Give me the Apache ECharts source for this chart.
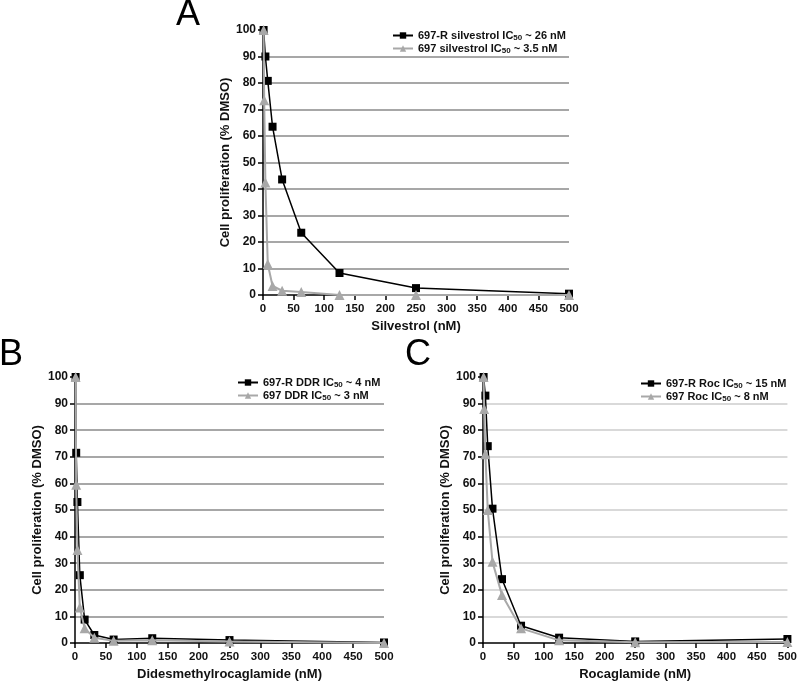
<!DOCTYPE html>
<html>
<head>
<meta charset="utf-8">
<script src="https://cdn.jsdelivr.net/npm/echarts@6/dist/echarts.min.js"></script>
<style>
html,body{margin:0;padding:0;background:#fff;}
#chart{width:800px;height:682px;}
</style>
</head>
<body>
<div id="chart"></div>
<script>
// ---- Data ----
const panelLetters = ['A', 'B', 'C'];
const xAxisTitles = ['Silvestrol (nM)', 'Didesmethylrocaglamide (nM)', 'Rocaglamide (nM)'];
const yAxisTitle = 'Cell proliferation (% DMSO)';

const seriesNames = [
  ['697-R silvestrol IC50 ~ 26 nM', '697 silvestrol IC50 ~ 3.5 nM'],
  ['697-R DDR IC50 ~ 4 nM', '697 DDR IC50 ~ 3 nM'],
  ['697-R Roc IC50 ~ 15 nM', '697 Roc IC50 ~ 8 nM']
];

// Panel A: silvestrol
const concSilvR = [0.98, 3.9, 7.8, 15.6, 31.25, 62.5, 125, 250, 500];
const silvR     = [100, 90, 80.8, 63.5, 43.6, 23.5, 8.3, 2.6, 0.5];
const concSilv  = [0.98, 1.95, 3.9, 7.8, 15.6, 31.25, 62.5, 125, 250, 500];
const silv      = [100, 73.5, 42.5, 11.7, 3.4, 1.6, 1.1, 0, 0, 0];

// Panel B: didesmethylrocaglamide
const concDdr = [0.98, 1.95, 3.9, 7.8, 15.6, 31.25, 62.5, 125, 250, 500];
const ddrR    = [100, 71.5, 53, 25.5, 8.8, 3, 1.3, 1.8, 1.1, 0.2];
const ddr     = [100, 59.5, 35, 13.3, 5.5, 2, 0.8, 1.0, 0.6, 0];

// Panel C: rocaglamide
const concRocR = [0.98, 3.9, 7.8, 15.6, 31.25, 62.5, 125, 250, 500];
const rocR     = [100, 93, 74, 50.5, 24, 6.5, 2.0, 0.6, 1.5];
const concRoc  = [0.98, 1.95, 3.9, 7.8, 15.6, 31.25, 62.5, 125, 250, 500];
const roc      = [100, 88, 71, 50, 30.5, 18, 5.5, 1.0, 0.3, 0.4];

const yTicks = [0, 10, 20, 30, 40, 50, 60, 70, 80, 90, 100];
const xTicks = [0, 50, 100, 150, 200, 250, 300, 350, 400, 450, 500];

// ---- Build ----
const FONT = '"Liberation Sans", Arial, sans-serif';
const zip = (xs, ys) => xs.map((x, i) => [x, ys[i]]);

const grids = [
  {left: 263, top: 30, width: 306, height: 265},
  {left: 75, top: 377, width: 309, height: 266},
  {left: 483, top: 377, width: 306, height: 266}
];
const gridColors = ['#8a8a8a', '#8a8a8a', '#cccccc'];

const xAxes = grids.map((g, i) => ({
  type: 'value', gridIndex: i,
  min: xTicks[0], max: xTicks[xTicks.length - 1], interval: xTicks[1] - xTicks[0],
  name: xAxisTitles[i], nameLocation: 'middle', nameGap: 25,
  nameTextStyle: {fontFamily: FONT, fontWeight: 'bold', fontSize: 13, color: '#111'},
  axisLine: {show: true, onZero: false, lineStyle: {color: '#000', width: 1.5}},
  axisTick: {show: true, length: 5, inside: false, lineStyle: {color: '#000', width: 1.5}},
  axisLabel: {margin: 8, fontFamily: FONT, fontWeight: 'bold', fontSize: 11.5, color: '#111'},
  splitLine: {show: false}
}));

const yAxes = grids.map((g, i) => ({
  type: 'value', gridIndex: i,
  min: yTicks[0], max: yTicks[yTicks.length - 1], interval: yTicks[1] - yTicks[0],
  name: yAxisTitle, nameLocation: 'middle', nameGap: 30, nameRotate: 90,
  nameTextStyle: {fontFamily: FONT, fontWeight: 'bold', fontSize: 13, color: '#111'},
  axisLine: {show: true, onZero: false, lineStyle: {color: '#000', width: 1.5}},
  axisTick: {show: true, length: 5, inside: false, lineStyle: {color: '#000', width: 1.5}},
  axisLabel: {margin: 7, fontFamily: FONT, fontWeight: 'bold', fontSize: 12, color: '#111'},
  splitLine: {show: true, showMinLine: false, showMaxLine: false, lineStyle: {color: gridColors[i], width: 1.5}}
}));

const blackData = [zip(concSilvR, silvR), zip(concDdr, ddrR), zip(concRocR, rocR)];
const grayData  = [zip(concSilv, silv), zip(concDdr, ddr), zip(concRoc, roc)];

const series = [];
for (let i = 0; i < 3; i++) {
  series.push({
    type: 'line', name: seriesNames[i][0], xAxisIndex: i, yAxisIndex: i,
    data: blackData[i], symbol: 'rect', symbolSize: 8, clip: false,
    itemStyle: {color: '#000'}, lineStyle: {color: '#000', width: 1.5},
    emphasis: {disabled: true}, z: 2
  });
  series.push({
    type: 'line', name: seriesNames[i][1], xAxisIndex: i, yAxisIndex: i,
    data: grayData[i], symbol: 'triangle', symbolSize: 10, clip: false,
    itemStyle: {color: '#a8a8a8'}, lineStyle: {color: '#a8a8a8', width: 2},
    emphasis: {disabled: true}, z: 3
  });
}

const legendPos = [
  {left: 387, top: 25},
  {left: 232, top: 372},
  {left: 635, top: 373}
];
const legends = legendPos.map((p, i) => ({
  left: p.left, top: p.top, orient: 'vertical',
  data: seriesNames[i], itemWidth: 20, itemHeight: 8, itemGap: 1,
  selectedMode: false,
  formatter: function (name) {
    const k = name.indexOf('IC50');
    return '{n|' + name.slice(0, k + 2) + '}{s|50}{n|' + name.slice(k + 4) + '}';
  },
  textStyle: {
    rich: {
      n: {fontFamily: FONT, fontWeight: 'bold', fontSize: 11, color: '#111', lineHeight: 13},
      s: {fontFamily: FONT, fontWeight: 'bold', fontSize: 8, color: '#111', verticalAlign: 'bottom', lineHeight: 6}
    }
  }
}));

const letterPos = [
  {left: 176, top: -3},
  {left: -1, top: 337},
  {left: 405, top: 337}
];
const titles = letterPos.map((p, i) => ({
  text: panelLetters[i], left: p.left, top: p.top, padding: 0,
  textStyle: {fontFamily: FONT, fontWeight: 'normal', fontSize: 36, color: '#000', lineHeight: 36}
}));

const chart = echarts.init(document.getElementById('chart'), null, {renderer: 'canvas'});
chart.setOption({
  animation: false,
  backgroundColor: '#fff',
  title: titles,
  grid: grids,
  xAxis: xAxes,
  yAxis: yAxes,
  legend: legends,
  series: series
});
</script>
</body>
</html>
